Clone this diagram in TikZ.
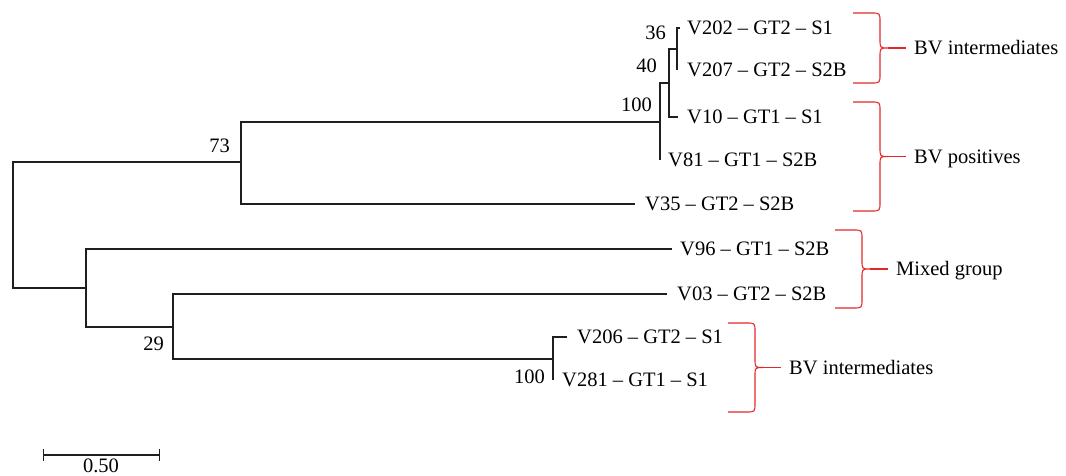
\documentclass[tikz,border=0pt]{standalone}
\usepackage{fontspec}
\setmainfont{Liberation Serif}
\usetikzlibrary{positioning,arrows.meta}
\definecolor{bracered}{RGB}{228,38,40}

\begin{document}
\begin{tikzpicture}[
  x=1pt, y=-1pt,
  font=\fontsize{20.5}{23}\selectfont,
  edge/.style={line width=1.05pt, draw=black!88},
  leaf/.style={inner sep=1pt, text height=13.5pt, text depth=0pt},
  boot/.style={inner sep=1pt, text height=13.5pt, text depth=0pt},
  brace/.style={draw=bracered, line width=1.1pt},
  grp/.style={inner sep=1pt, text height=13.5pt, text depth=0pt}
]
\useasboundingbox (0,0) rectangle (1066,476);

% leaf tips
\coordinate (t202) at (680,28);
\coordinate (t207) at (677,70);
\coordinate (t10)  at (678,117);
\coordinate (t81)  at (660,160);
\coordinate (t35)  at (635,204);
\coordinate (t96)  at (672,249);
\coordinate (t03)  at (667,294);
\coordinate (t206) at (567,337);
\coordinate (t281) at (553,380);

% inner nodes
\coordinate (n36)   at (677,49);
\coordinate (n40)   at (669,83);
\coordinate (n100)  at (660,122);
\coordinate (n73)   at (241,162);
\coordinate (root)  at (13,225);
\coordinate (nlow)  at (86,288);
\coordinate (n29)   at (173,327);
\coordinate (n100b) at (553,359);

\draw[edge] (t202) -| (n36) |- (t207);
\draw[edge] (n36) -| (n40) |- (t10);
\draw[edge] (n40) -| (n100) |- (t81);
\draw[edge] (n100) -| (n73) |- (t35);
\draw[edge] (n73) -| (root) |- (nlow);
\draw[edge] (t96) -| (nlow) |- (n29);
\draw[edge] (t03) -| (n29) |- (n100b);
\draw[edge] (t206) -| (n100b) |- (t281);

\node[leaf, right=6pt of t202] (v202) {V202 -- GT2 -- S1};
\node[leaf, right=9pt of t207] (v207) {V207 -- GT2 -- S2B};
\node[leaf, right=8pt of t10]  (v10)  {V10 -- GT1 -- S1};
\node[leaf, right=7pt of t81]  (v81)  {V81 -- GT1 -- S2B};
\node[leaf, right=9pt of t35]  (v35)  {V35 -- GT2 -- S2B};
\node[leaf, right=7pt of t96]  (v96)  {V96 -- GT1 -- S2B};
\node[leaf, right=9pt of t03]  (v03)  {V03 -- GT2 -- S2B};
\node[leaf, right=9pt of t206] (v206) {V206 -- GT2 -- S1};
\node[leaf, right=8pt of t281] (v281) {V281 -- GT1 -- S1};

% bootstrap values
\node[boot, anchor=east] (b36)   at (667,33)  {36};
\node[boot, anchor=east] (b40)   at (658,66)  {40};
\node[boot, anchor=east] (b100)  at (653,105) {100};
\node[boot, anchor=east] (b73)   at (231,146) {73};
\node[boot, anchor=east] (b29)   at (165,344) {29};
\node[boot, anchor=east] (b100b) at (546,377) {100};

% group braces
\foreach \nm/\xv/\ya/\yb/\txt in {g1/880/13/83/BV intermediates,
                                  g2/880/102/211/BV positives,
                                  g3/862/230/308/Mixed group,
                                  g4/755/323/412/BV intermediates}{
  \pgfmathsetmacro\ym{(\ya+\yb)/2}
  \draw[brace] (\xv-27,\ya) -- (\xv-9,\ya) .. controls (\xv,\ya) .. (\xv,\ya+9)
    -- (\xv,\ym-9) .. controls (\xv,\ym) .. (\xv+8,\ym)
    .. controls (\xv,\ym) .. (\xv,\ym+9) -- (\xv,\yb-9)
    .. controls (\xv,\yb) .. (\xv-9,\yb) -- (\xv-27,\yb);
  \coordinate (\nm tip) at (\xv+26,\ym);
  \draw[brace] (\xv+8,\ym) -- (\nm tip);
  \node[grp, right=7pt of \nm tip] (\nm) {\txt};
}

% scale bar
\coordinate (sb0) at (43,455);
\coordinate (sb1) at (160,455);
\draw[edge, {Bar[width=12pt]}-{Bar[width=12pt]}] (sb0) -- (sb1);
\node[boot, inner sep=0pt, text height=13pt, anchor=north] (scl) at (101,459) {0.50};

\end{tikzpicture}
\end{document}
